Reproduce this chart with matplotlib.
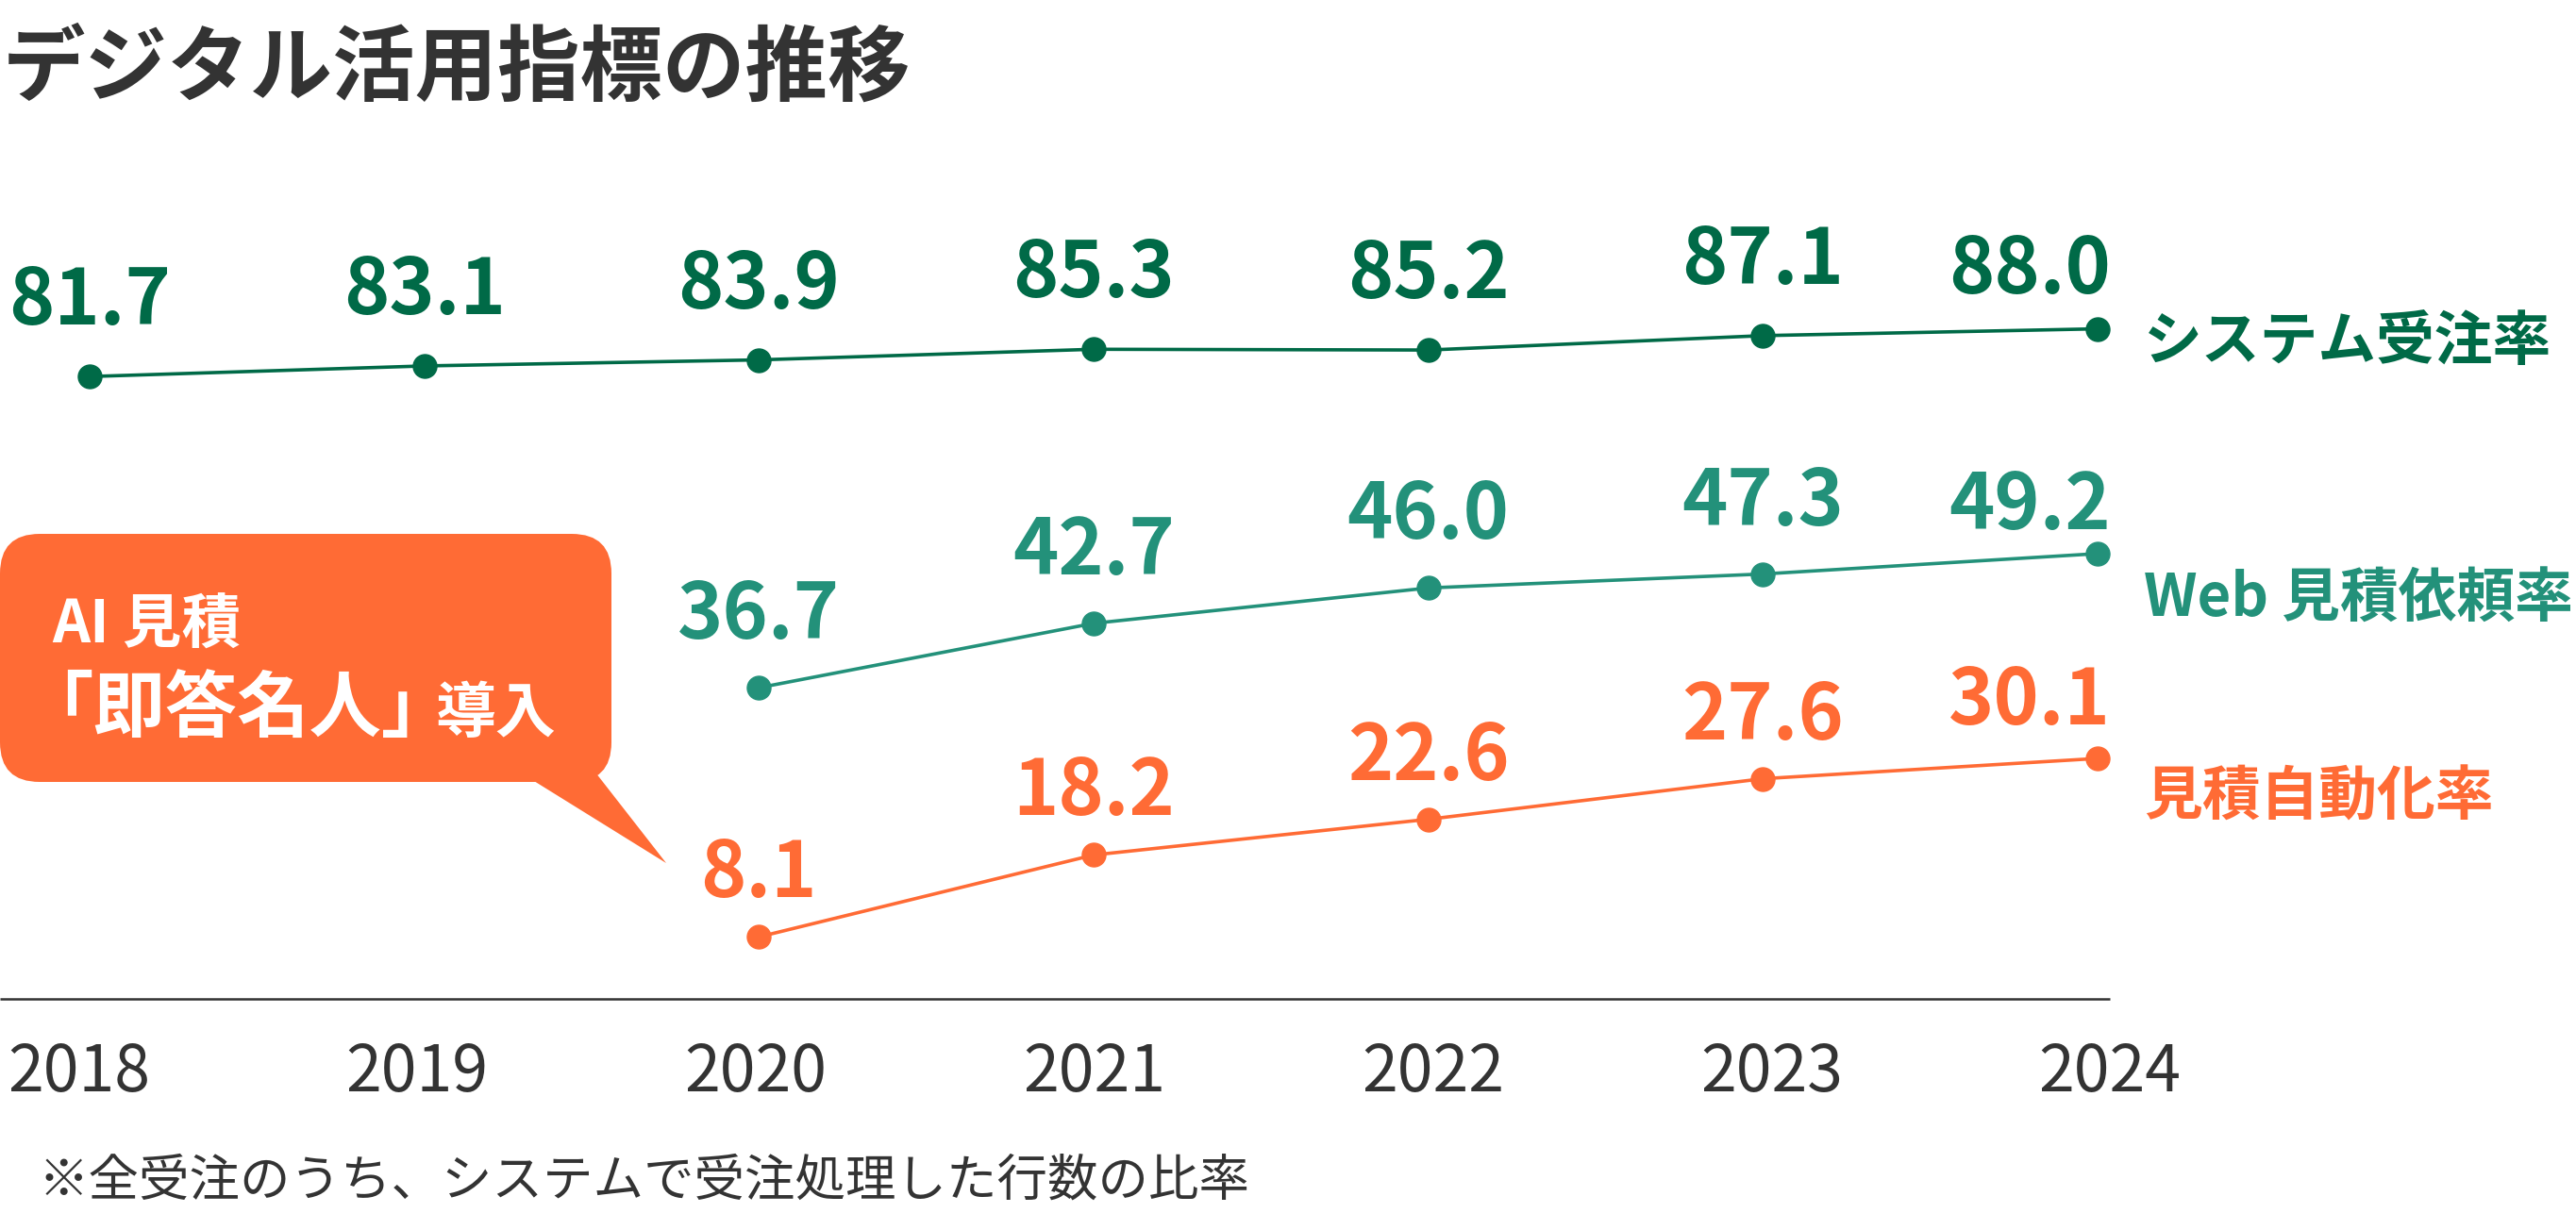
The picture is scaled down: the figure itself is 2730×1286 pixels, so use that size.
import matplotlib
matplotlib.use("Agg")
import matplotlib.pyplot as plt
from matplotlib.patches import FancyBboxPatch, Polygon
from matplotlib.transforms import blended_transform_factory

plt.rcParams['font.family'] = ['Noto Sans CJK JP', 'DejaVu Sans']

# ---------------- data ----------------
years = [2018, 2019, 2020, 2021, 2022, 2023, 2024]
system_years = [2018, 2019, 2020, 2021, 2022, 2023, 2024]
system_rate = [81.7, 83.1, 83.9, 85.3, 85.2, 87.1, 88.0]
web_years = [2020, 2021, 2022, 2023, 2024]
web_rate = [36.7, 42.7, 46.0, 47.3, 49.2]
auto_years = [2020, 2021, 2022, 2023, 2024]
auto_rate = [8.1, 18.2, 22.6, 27.6, 30.1]

title = "デジタル活用指標の推移"
series_names = ["システム受注率", "Web 見積依頼率", "見積自動化率"]
callout_line1 = "AI 見積"
callout_line2a = "「即答名人」"
callout_line2b = "導入"
footnote = "※全受注のうち、システムで受注処理した行数の比率"

# ---------------- style ----------------
C_SYS = "#006A47"
C_WEB = "#23917A"
C_ORG = "#FF6B35"
C_TXT = "#333333"
PX = 0.72  # pixels -> points at dpi 100

W, H = 2730, 1286
fig = plt.figure(figsize=(W / 100, H / 100), dpi=100)
fig.patch.set_facecolor("white")

# pixel-space overlay for annotations
pix = fig.add_axes([0, 0, 1, 1])
pix.set_xlim(0, W)
pix.set_ylim(H, 0)
pix.axis("off")

XLIM = (2017.732, 2025.4295)
series = [
    (system_years, system_rate, C_SYS, (-28.73, 131.41), 55, 38, -14),
    (web_years, web_rate, C_WEB, (-12.28, 100.82), 52, 26, -48),
    (auto_years, auto_rate, C_ORG, (-25.94, 123.60), 42, 36, -41),
]

axes = []
for i, (xs, ys, col, ylim, gap, gap_last, name_dy) in enumerate(series):
    ax = fig.add_axes([0, 0, 1, 1])
    ax.patch.set_alpha(0)
    ax.set_xlim(*XLIM)
    ax.set_ylim(*ylim)
    ax.axis("off")
    ax.plot(xs, ys, color=col, lw=2.6, marker="o", markersize=18,
            solid_capstyle="round", zorder=3)
    for j, (x, v) in enumerate(zip(xs, ys)):
        last = j == len(xs) - 1
        ax.annotate(f"{v:.1f}", (x, v),
                    xytext=(14 * PX if last else 0, (gap_last if last else gap) * PX),
                    textcoords="offset points",
                    ha="right" if last else "center", va="baseline",
                    fontsize=59, fontweight="bold", color=col)
    ax.annotate(series_names[i], (xs[-1], ys[-1]),
                xytext=(49 * PX, name_dy * PX), textcoords="offset points",
                ha="left", va="center", fontsize=44.5, fontweight="bold",
                color=col)
    axes.append(ax)

# x axis baseline and year labels (labels sit on a slightly wider scale)
pix.plot([0, 2236], [1059, 1059], color=C_TXT, lw=1.8, solid_capstyle="butt")
lab_ax = fig.add_axes([0, 0, 1, 1])
lab_ax.patch.set_alpha(0)
lab_ax.set_xlim(2017.7672, 2025.3770)
lab_ax.axis("off")
tr = blended_transform_factory(lab_ax.transData, pix.transData)
for y in years:
    lab_ax.text(y, 1157, str(y), transform=tr, ha="center", va="baseline",
                fontsize=49, color=C_TXT)

# title
pix.text(3, 100, title, ha="left", va="baseline", fontsize=63,
         fontweight="bold", color=C_TXT)

# footnote
pix.text(40, 1268, footnote, ha="left", va="baseline", fontsize=38.5,
         color=C_TXT)

# callout bubble
box = FancyBboxPatch((0, 566), 648, 263,
                     boxstyle="round,pad=0,rounding_size=42",
                     facecolor=C_ORG, edgecolor="none", zorder=5)
pix.add_patch(box)
tail = Polygon([(545, 815), (628, 815), (706, 915)], closed=True,
               facecolor=C_ORG, edgecolor="none", zorder=5)
pix.add_patch(tail)
pix.text(55, 682, callout_line1, ha="left", va="baseline", fontsize=45,
         fontweight="bold", color="white", zorder=6)
pix.text(22, 776, callout_line2a, ha="left", va="baseline", fontsize=55,
         fontweight="bold", color="white", zorder=6)
pix.text(462, 776, callout_line2b, ha="left", va="baseline", fontsize=46,
         fontweight="bold", color="white", zorder=6)

fig.savefig("out.png", dpi=100, facecolor="white")
